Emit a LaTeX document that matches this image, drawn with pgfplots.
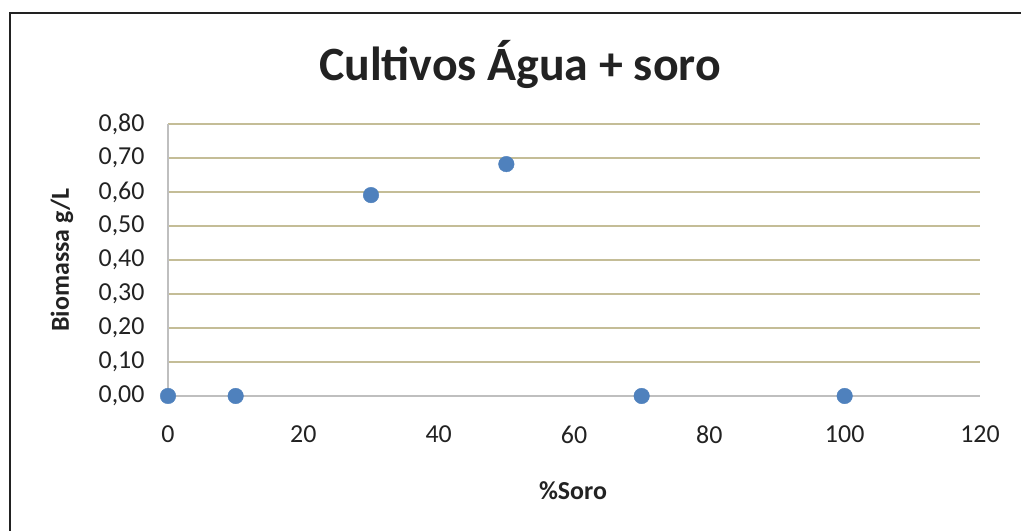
\documentclass[border=0pt]{standalone}
\usepackage{pgfplots}
\pgfplotsset{compat=1.18}
\usepackage{fontspec}
\setmainfont{Carlito}
\definecolor{gridtan}{HTML}{C4BD97}
\definecolor{axgray}{HTML}{BFBFBF}
\definecolor{mblue}{HTML}{4F81BD}
\definecolor{txt}{HTML}{222222}
\begin{document}
\begin{tikzpicture}[x=1bp,y=1bp]
\path[use as bounding box] (0,0) rectangle (1021,531);
\draw[line width=2bp, color=txt] (10,-10) -- (10,518) -- (1030,518);
\begin{axis}[
  at={(168bp,135bp)}, anchor=south west,
  scale only axis, width=812bp, height=272bp,
  xmin=0, xmax=120, ymin=0, ymax=0.8,
  xtick={0,20,...,120}, ytick={0,0.1,0.2,0.3,0.4,0.5,0.6,0.7,0.8},
  axis x line*=bottom, axis y line*=left,
  axis line style={color=axgray, line width=1.2bp},
  major tick length=0pt,
  ymajorgrids, grid style={color=gridtan, line width=1.2bp},
  yticklabel style={/pgf/number format/fixed, /pgf/number format/fixed zerofill, /pgf/number format/precision=2, /pgf/number format/use comma, xshift=-20bp},
  /pgf/number format/assume math mode=true,
  tick label style={font=\fontsize{26}{30}\selectfont, color=txt},
  xticklabel style={yshift=-26bp},
  clip=false,
]
\addplot[only marks, mark=*, mark size=7.8bp, color=mblue, mark options={draw=mblue, fill=mblue}]
  coordinates {(0,0) (10,0) (30,0.591) (50,0.682) (70,0) (100,0)};
\end{axis}
\node[anchor=base, font=\fontsize{48}{56}\selectfont\bfseries, color=txt] at (520,450) {Cultivos Água + soro};
\node[anchor=base, font=\fontsize{26}{30}\selectfont\bfseries, color=txt] at (573,31) {\%Soro};
\node[rotate=90, font=\fontsize{26}{30}\selectfont\bfseries, color=txt] at (62,271) {Biomassa g/L};
\end{tikzpicture}
\end{document}
